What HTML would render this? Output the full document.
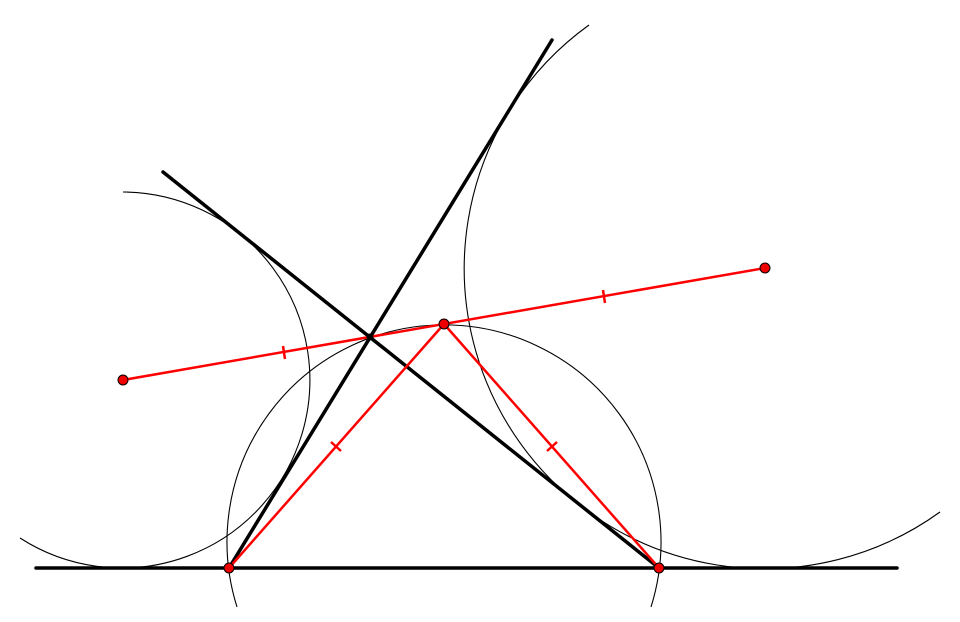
<!DOCTYPE html>
<html><head><style>html,body{margin:0;padding:0;background:#fff}svg{display:block}</style></head>
<body>
<svg width="960" height="622" viewBox="0 0 960 622" xmlns="http://www.w3.org/2000/svg">
<g fill="none" stroke="#000" stroke-width="1.1">
<path d="M123,192 A188,188 0 1 1 20,538"/>
<path d="M589,25 A300,300 0 1 0 940,512"/>
<path d="M237,607 A217,217 0 1 1 651,607"/>
</g>
<g stroke="#000" stroke-width="3.5" stroke-linecap="round">
<line x1="36" y1="568" x2="897" y2="568"/>
<line x1="229" y1="568" x2="552" y2="40"/>
<line x1="163" y1="172" x2="659" y2="568"/>
</g>
<g stroke="#f00" stroke-width="2.5" fill="none">
<line x1="123" y1="380" x2="765" y2="268"/>
<line x1="229" y1="568" x2="444" y2="324"/>
<line x1="444" y1="324" x2="659" y2="568"/>
<!-- ticks -->
<line x1="283" y1="346" x2="285" y2="359"/>
<line x1="603" y1="290" x2="605" y2="303"/>
<line x1="331" y1="442" x2="341" y2="451"/>
<line x1="557" y1="442" x2="547" y2="451"/>
</g>
<circle cx="370" cy="337" r="3.5" fill="#000"/>
<g fill="#e00" stroke="#000" stroke-width="1">
<circle cx="123" cy="380" r="5"/>
<circle cx="765" cy="268" r="5"/>
<circle cx="444" cy="324" r="5"/>
<circle cx="229" cy="568" r="5"/>
<circle cx="659" cy="568" r="5"/>
</g>
</svg>
</body></html>
